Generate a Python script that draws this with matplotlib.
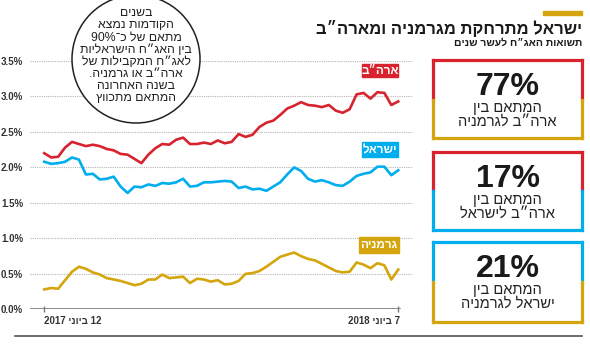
import re

import numpy as np
import pandas as pd
import matplotlib

matplotlib.use("Agg")
import matplotlib.pyplot as plt
from matplotlib.patches import Circle, Rectangle

plt.rcParams["font.family"] = ["Liberation Sans", "DejaVu Sans"]

# 10-year bond yields, weekly readings, 12.6.2017 - 7.6.2018 (%)
start_date = "2017-06-12"
end_date = "2018-06-07"
usa = [2.20, 2.14, 2.15, 2.28, 2.36, 2.33, 2.30, 2.32, 2.30, 2.26,
       2.24, 2.19, 2.18, 2.12, 2.06, 2.18, 2.27, 2.33, 2.32, 2.39,
       2.42, 2.33, 2.33, 2.35, 2.33, 2.38, 2.34, 2.36, 2.47, 2.43,
       2.46, 2.57, 2.63, 2.66, 2.74, 2.83, 2.87, 2.92, 2.88, 2.87,
       2.85, 2.88, 2.80, 2.77, 2.82, 3.03, 3.05, 2.97, 3.06, 3.05,
       2.88, 2.93]
israel = [2.08, 2.05, 2.06, 2.08, 2.14, 2.11, 1.90, 1.91, 1.83, 1.84,
          1.87, 1.73, 1.64, 1.73, 1.72, 1.76, 1.74, 1.78, 1.77, 1.79,
          1.84, 1.73, 1.74, 1.79, 1.79, 1.80, 1.81, 1.80, 1.71, 1.73,
          1.69, 1.70, 1.67, 1.73, 1.79, 1.90, 2.00, 1.95, 1.84, 1.80,
          1.82, 1.79, 1.75, 1.74, 1.80, 1.88, 1.91, 1.93, 2.01, 2.01,
          1.89, 1.96]
germany = [0.28, 0.30, 0.29, 0.41, 0.53, 0.60, 0.57, 0.52, 0.49, 0.44,
           0.42, 0.40, 0.37, 0.34, 0.36, 0.42, 0.42, 0.49, 0.44, 0.45,
           0.46, 0.37, 0.43, 0.42, 0.39, 0.41, 0.35, 0.36, 0.40, 0.50,
           0.51, 0.54, 0.60, 0.67, 0.74, 0.77, 0.80, 0.75, 0.71, 0.69,
           0.64, 0.59, 0.54, 0.52, 0.53, 0.66, 0.63, 0.58, 0.65, 0.62,
           0.42, 0.56]

y_ticks = [0.0, 0.5, 1.0, 1.5, 2.0, 2.5, 3.0, 3.5]
x_labels = ["12 ביוני 2017", "7 ביוני 2018"]
series_names = ["ארה״ב", "ישראל", "גרמניה"]
corr_values = ["77%", "17%", "21%"]
corr_lines = [["המתאם בין", "ארה״ב לגרמניה"],
              ["המתאם בין", "ארה״ב לישראל"],
              ["המתאם בין", "ישראל לגרמניה"]]
title = "ישראל מתרחקת מגרמניה ומארה״ב"
subtitle = "תשואות האג״ח לעשר שנים"
note = ["בשנים", "הקודמות נמצא", "מתאם של כ־90%", "בין האג״ח הישראליות",
        "לאג״ח המקבילות של", "ארה״ב או גרמניה.", "בשנה האחרונה",
        "המתאם מתכווץ"]

RED = "#d8232e"
BLUE = "#00adee"
GOLD = "#d4a50c"


def vis(s):
    # matplotlib has no bidi: flip the string, keep number runs left-to-right
    r = s[::-1]
    return re.sub(r"[0-9A-Za-z%.]+", lambda m: m.group(0)[::-1], r)


fig = plt.figure(figsize=(5.9, 3.5), dpi=100)
W, H = 590, 350

# main chart
ax = fig.add_axes([30 / W, (H - 309.3) / H, 383 / W, 248.3 / H])
dates = pd.date_range(start_date, end_date, periods=len(usa))
d0, d1 = pd.Timestamp(start_date), pd.Timestamp(end_date)
ax.plot(dates, usa, color=RED, lw=1.9, zorder=3)
ax.plot(dates, israel, color=BLUE, lw=1.9, zorder=3)
ax.plot(dates, germany, color=GOLD, lw=1.9, zorder=3)

ax.set_ylim(0, 3.5)
ax.set_xlim(d0 - pd.Timedelta(days=14.5), d1 + pd.Timedelta(days=15))
for v in y_ticks[1:]:
    ax.axhline(v, color="#b5b5b5", lw=0.8, ls=(0, (1, 1)), zorder=1)
ax.axhline(0, color="#7a7a7a", lw=1.2, zorder=2, xmax=370 / 383)
ax.set_yticks(y_ticks)
ax.set_yticklabels([f"{v:.1f}%" for v in y_ticks], fontsize=7,
                   fontweight="bold", color="#333333")
ax.tick_params(axis="y", length=0, pad=5)
ax.set_xticks([d0, d1])
ax.set_xticklabels(["", ""])
ax.tick_params(axis="x", length=5, width=1, color="#7a7a7a", direction="inout")
for s in ax.spines.values():
    s.set_visible(False)
ax.patch.set_alpha(0)

# overlay in pixel coordinates
ov = fig.add_axes([0, 0, 1, 1])
ov.set_xlim(0, W)
ov.set_ylim(H, 0)
ov.axis("off")
ov.patch.set_alpha(0)

ov.text(44, 321, vis(x_labels[0]), ha="left", va="center", fontsize=7,
        fontweight="bold", color="#333333")
ov.text(400, 321, vis(x_labels[1]), ha="right", va="center", fontsize=7,
        fontweight="bold", color="#333333")

# series labels
for name, col, (x0, y0, x1, y1) in zip(series_names, [RED, BLUE, GOLD],
                                        [(362, 64, 398, 77),
                                         (362, 142, 398, 157),
                                         (359, 237, 399, 253)]):
    ov.add_patch(Rectangle((x0, y0), x1 - x0, y1 - y0, color=col, zorder=5))
    ov.text((x0 + x1) / 2, (y0 + y1) / 2 + 0.5, vis(name), ha="center",
            va="center", fontsize=8.5, fontweight="bold", color="white",
            zorder=6)

# note circle
ov.add_patch(Circle((136, 59), 64, facecolor="white", edgecolor="#222222",
                    lw=1.1, zorder=4))
for i, line in enumerate(note):
    ov.text(136, 13 + i * 12.2, vis(line), ha="center", va="center",
            fontsize=8.8, color="#222222", zorder=5)

# title block
ov.add_patch(Rectangle((543, 11), 39, 4, color=GOLD))
ov.text(582, 28.5, vis(title), ha="right", va="center", fontsize=12,
        fontweight="bold", color="#1a1a1a")
ov.text(582, 43, vis(subtitle), ha="right", va="center", fontsize=7.5,
        fontweight="bold", color="#1a1a1a")

# correlation boxes
boxes = [(60, 100, 138, RED, GOLD), (152, 191, 230, RED, BLUE),
         (242, 282, 322, BLUE, GOLD)]
bx0, bx1 = 433, 582
for (y0, ym, y1, c1, c2), val, lines in zip(boxes, corr_values, corr_lines):
    kw = dict(lw=2.3, solid_capstyle="projecting")
    ov.plot([bx0, bx1], [y0, y0], color=c1, **kw)
    ov.plot([bx0, bx0], [y0, ym], color=c1, **kw)
    ov.plot([bx1, bx1], [y0, ym], color=c1, **kw)
    ov.plot([bx0, bx0], [ym, y1], color=c2, **kw)
    ov.plot([bx1, bx1], [ym, y1], color=c2, **kw)
    ov.plot([bx0, bx1], [y1, y1], color=c2, **kw)
    cx = (bx0 + bx1) / 2
    ov.text(cx, y0 + 27, val, ha="center", va="center", fontsize=23,
            fontweight="bold", color="#1a1a1a")
    ov.text(cx, y0 + 48, vis(lines[0]), ha="center", va="center",
            fontsize=10.5, color="#222222")
    ov.text(cx, y0 + 62, vis(lines[1]), ha="center", va="center",
            fontsize=10.5, color="#222222")

ov.plot([15, 582], [336, 336], color="#555555", lw=1.2)

fig.savefig("out.png", dpi=100)
